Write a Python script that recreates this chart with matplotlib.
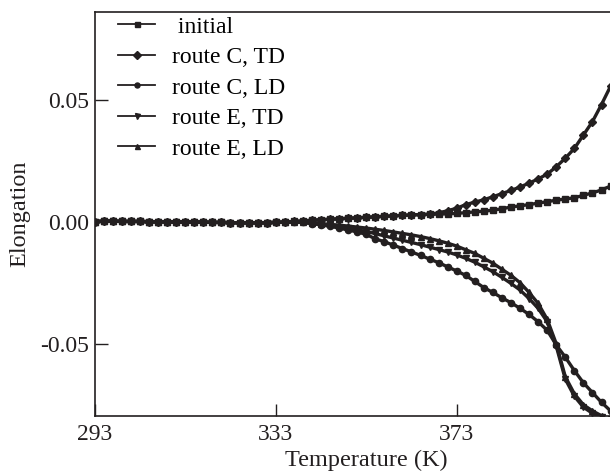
import matplotlib
matplotlib.use('Agg')
import matplotlib.pyplot as plt
import numpy as np

plt.rcParams['font.family'] = ['Liberation Serif', 'DejaVu Serif']
plt.rcParams['axes.unicode_minus'] = False

# temperature grid (K)
temp = list(range(293, 409, 2))

# elongation values (x 1e-3)
early = [0.0, 0.2, 0.2, 0.1, 0.1, 0.1, 0.0, 0.0, 0.0, -0.1, -0.1, -0.2,
         -0.2, -0.3, -0.3, -0.4, -0.4, -0.4, -0.4, -0.4, -0.3, -0.2]  # 293..335

initial = early + [0.1, 0.3, 0.6, 0.8, 1.0, 1.2, 1.4, 1.6, 1.8, 2.0, 2.2, 2.4,
                   2.6, 2.8, 2.9, 3.0, 3.1, 3.2, 3.4, 3.7, 4.0, 4.3, 4.7, 5.3,
                   6.0, 6.5, 7.0, 7.6, 8.2, 8.8, 9.3, 9.8, 10.8, 11.8, 13.0, 14.6]
route_c_td = early + [0.1, 0.3, 0.6, 0.8, 1.0, 1.2, 1.4, 1.6, 1.8, 2.0, 2.2, 2.4,
                      2.6, 2.8, 2.9, 3.1, 3.6, 4.5, 5.5, 7.0, 8.0, 9.0, 10.2, 11.5,
                      12.8, 14.2, 15.8, 17.5, 19.5, 22.5, 26.0, 30.0, 35.5, 41.0, 48.0, 55.5]
route_c_ld = early + [-0.1, -0.3, -0.8, -1.3, -1.9, -2.6, -3.4, -4.2, -5.2, -7.0, -8.2, -9.6,
                      -11.0, -12.4, -13.8, -15.3, -16.8, -18.5, -20.2, -22.0, -24.5, -27.0, -29.0, -31.2,
                      -33.2, -35.5, -38.0, -41.0, -44.5, -50.5, -55.5, -61.0, -66.0, -70.0, -74.0, -77.5]
route_e_td = early + [-0.1, -0.3, -0.7, -1.1, -1.6, -2.1, -2.7, -3.3, -4.0, -4.9, -5.8, -6.7,
                      -7.6, -8.5, -9.4, -10.4, -11.4, -12.4, -13.6, -15.0, -16.6, -18.5, -20.5, -22.8,
                      -25.3, -28.0, -31.5, -35.5, -41.0, -51.0, -64.5, -71.5, -76.0, -78.5, -80.0, -81.0]
route_e_ld = early + [-0.1, -0.2, -0.5, -0.8, -1.1, -1.4, -1.8, -2.2, -2.6, -3.1, -3.6, -4.2,
                      -4.8, -5.4, -6.1, -6.9, -7.8, -8.8, -10.0, -11.5, -13.0, -15.0, -17.0, -19.5,
                      -22.0, -25.0, -29.0, -33.5, -40.0, -50.0, -63.5, -70.5, -75.0, -77.5, -79.5, -81.0]

labels = [' initial', 'route C, TD', 'route C, LD', 'route E, TD', 'route E, LD']
markers = ['s', 'D', 'o', 'v', '^']
series = [initial, route_c_td, route_c_ld, route_e_td, route_e_ld]

col = '#231f20'

fig = plt.figure(figsize=(6.1, 4.72), dpi=100)
ax = fig.add_axes([94.7 / 610, 56 / 472, 543 / 610, 404 / 472])

for vals, m, lab in zip(series, markers, labels):
    ax.plot(temp, np.array(vals) / 1000, color=col, marker=m, markersize=4.5,
            linewidth=2.4, label=lab)

ax.set_xlim(293, 413)
ax.set_ylim(-0.0796, 0.0859)
ax.set_xticks([293, 333, 373])
ax.set_yticks([-0.05, 0.0, 0.05])
ax.set_yticklabels(['-0.05', '0.00', '0.05'])
ax.tick_params(direction='in', length=9, width=1, labelsize=17, colors=col)
ax.tick_params(axis='x', pad=6)
ax.tick_params(axis='y', pad=4)
ax.tick_params(top=False, right=False)
for s in ax.spines.values():
    s.set_color(col)
    s.set_linewidth(1.2)

ax.set_xlabel('Temperature (K)', fontsize=17.5, color=col, labelpad=3)
ax.set_ylabel('Elongation', fontsize=17.5, color=col, labelpad=7)

leg = ax.legend(loc='upper left', frameon=False, fontsize=17, markerscale=0.8,
                handlelength=1.6, handletextpad=0.7, labelspacing=0.38,
                borderaxespad=0.0, borderpad=0.0,
                bbox_to_anchor=(23 / 543, 1 - 4 / 404))
# thinner lines in the legend keys
for h in leg.get_lines():
    h.set_linewidth(1.3)

fig.savefig('out.png', dpi=100)
